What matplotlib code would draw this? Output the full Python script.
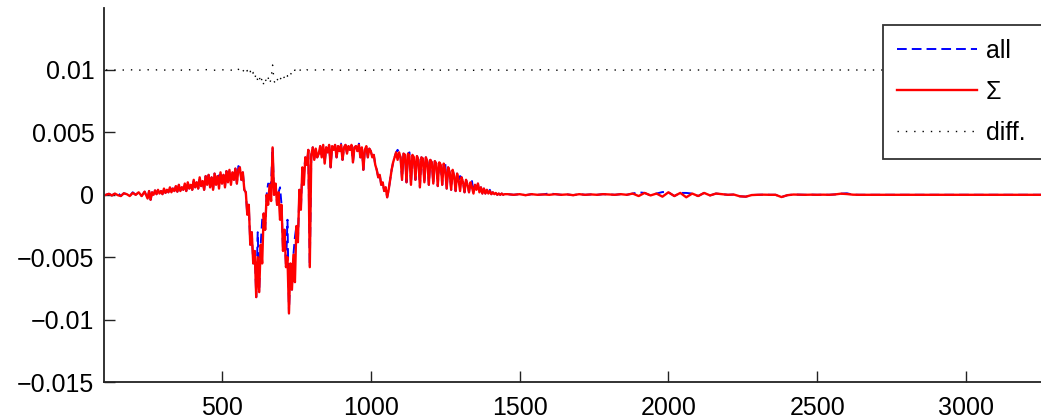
import numpy as np
import matplotlib
matplotlib.use('Agg')
import matplotlib.pyplot as plt
from matplotlib.ticker import FuncFormatter

plt.rcParams['font.family'] = ['Liberation Sans', 'DejaVu Sans']

# spectrum values in units of 1e-4, piece by piece
# (start x, step, values)
sum_a = (110, 10, [0, 0.8, -0.5, 1, -0.3, -1, 1.2, 0.5, -1, 1.5, 0, 2, -1, 2.5])
sum_a2 = (250, 5, [-3, 3, -4, 2, 0, 3.5, 0.5, 4, 1, 3, 0.5, 5, 1.5, 4, 2, 6, 2, 5, 3, 7,
                   2.5, 8, 3, 6, 4, 9, 3, 10, 5, 8, 4, 12, 6, 10, 5, 14, 7, 11, 4, 15, 8])
sum_b1 = (455, 5, [16, 6, 14, 4, 17, 8, 15, 5, 18, 9, 16, 6, 19, 10, 20, 8, 18, 12, 21, 9,
                   20, 22])
sum_b2 = (565, 5, [12, 18, 4, 2, -16, -8, -40, -30, -55, -45, -82, -50, -78, -40, -55, -15,
                   -28, 0, -8, 8, -5, 38, 0, 9, -8, 2, -20, -8, -45, -28, -58, -50, -95,
                   -55, -76, -48, -70, -25, -38, 4, -12, 22, 8, 30, 24, 36, -58, 32, 38,
                   28, 37, 30])
sum_b3 = (825, 5, [33, 39, 30, 40, 25, 38, 34, 40, 22, 39, 36, 40, 30, 39, 35, 40, 28, 38,
                   40, 33, 39, 36, 40, 26, 38, 39, 35, 40, 30, 38, 20, 36, 39, 30, 37])
sum_b4 = (1000, 5, [35, 30, 32, 24, 20, 14, 16, 8, 10, 3, 6, -2, 4, 12, 20, 26, 30, 34, 28])
sum_b5 = (1095, 5, [34, 30, 12, 33, 32, 10, 33, 31, 8, 32, 30, 12, 31, 28, 6, 30, 29, 10,
                    30, 27, 8, 28, 26, 9, 27, 25, 7, 26])
sum_b6 = (1235, 5, [24, 8, 25, 20, 5, 22, 18, 4, 20, 15, 3, 17, 12, 3, 14, 10, 2, 12, 8, 2,
                    10, 6, 1, 8, 4, 9, 2, 6, 1, 5, 1, 4, 1, 3, 0.5, 2, 0.5, 1.5, 0, 1, 0, 1,
                    0, 0.5])
sum_c1 = (1460, 20, [0.5, 0, 0.5, -0.3, 0.5, 0, 0.3, 0, 0.5, 0, 0.3, -0.3, 0.5, 0, 0.3, 0,
                     0.5, 0.3, 0, 0.5, 0])
sum_c2 = (1880, 20, [1, -1, 1.5, -0.5, 1, -1.5, 2, -1, 1.5, -2, 1, -1, 1.5, -0.5, 1, 0.5])
sum_c3 = (2200, 20, [0, 0.2, -1.2, -1.5, -0.2, 0, 0.1, 0, 0, -1.8, -0.3, 0.2, 0.1, 0, 0.1,
                     0, 0.1, 0, 0.3, 0.9, 0.6, 0.1, 0])
sum_tail = (2660, 640, [0, 0])

# spots where the blue "all" curve sticks out from under the red one
all_dev_x = [150, 200, 330, 490, 530, 555, 620, 635, 655, 665, 695, 720, 745, 775, 900,
             960, 1090, 1130, 1190, 1250, 1300, 1340, 1400, 1600, 1900, 1980, 2060, 2600]
all_dev_y = [1.8, 2, 5, 15, 20, 23, -30, -20, 9, 10, 6, -20, -34, 16, 41, 41, 36, 34, 30,
             26, 15, 11, 4, 1.2, 2, 2.2, 1.5, 1.2]

# difference curve, plotted around 0.01 (units 1e-4)
diff_a = (110, 20, [100, 100.2, 99.8, 100, 100.3, 99.7, 100, 100.2, 99.8, 100.4, 99.9,
                    100, 100.3, 99.7, 100.2, 99.8, 100, 100.3, 99.8, 100, 100.2, 99.9])
diff_b = (540, 5, [100, 100.5, 99.5, 100.6, 99.3, 100.8, 98.8, 100.5, 97.5, 99.6,
                   96.5, 99, 95, 98, 93.5, 97, 91.5, 95, 89.5, 94,
                   88.5, 93, 90, 94, 89, 93, 104, 91, 89, 93,
                   90.5, 94, 92, 95.5, 93.5, 97, 95, 98, 96, 99,
                   97.5, 100, 98.5, 100.3, 99.3, 100.5, 99.6, 100.3, 99.7, 100.2,
                   99.8, 100.2, 100])
diff_c = (820, 40, [100, 100.3, 99.8, 100.2, 99.7, 100, 100.3, 99.8, 100.1, 100.4, 99.8,
                    100, 100.2, 99.7, 100.3, 100, 99.8, 100.2, 100, 100.3, 99.8, 100,
                    100.2, 99.9, 100.3, 100, 99.8, 100.2, 100, 100.3, 100.1, 99.9, 100])
diff_tail = (2140, 1160, [100, 100])

xticks = [500, 1000, 1500, 2000, 2500, 3000]
yticks = [-0.015, -0.01, -0.005, 0, 0.005, 0.01]


def build(parts):
    xs = np.concatenate([p[0] + p[1] * np.arange(len(p[2])) for p in parts])
    ys = np.concatenate([np.array(p[2], float) for p in parts])
    return xs, ys * 1e-4


x, y_sum = build([sum_a, sum_a2, sum_b1, sum_b2, sum_b3, sum_b4, sum_b5, sum_b6,
                  sum_c1, sum_c2, sum_c3, sum_tail])
y_all = y_sum.copy()
for xv, yv in zip(all_dev_x, all_dev_y):
    y_all[np.argmin(np.abs(x - xv))] = yv * 1e-4
dx, dy = build([diff_a, diff_b, diff_c, diff_tail])

fig = plt.figure(figsize=(10.41, 4.19), dpi=100)
ax = fig.add_axes([104 / 1041, 37 / 419, 937 / 1041, 374.4 / 419])

l_all, = ax.plot(x, y_all, color='#0000ff', lw=1.4, ls=(0, (5, 2.6)), label='all')
l_sum, = ax.plot(x, y_sum, color='#ff0000', lw=1.7, label='\u03a3')
l_diff, = ax.plot(dx, dy, color='black', lw=1.0, ls=(0, (1, 5)), label='diff.')

ax.set_xlim(103.5, 3252)
ax.set_ylim(-0.015, 0.015)
ax.set_xticks(xticks)
ax.set_yticks(yticks)
ax.yaxis.set_major_formatter(FuncFormatter(lambda v, p: f"{v:g}".replace('-', '\u2212')))

for s in ['top', 'right']:
    ax.spines[s].set_visible(False)
for s in ['left', 'bottom']:
    ax.spines[s].set_linewidth(1.3)
    ax.spines[s].set_color('#222222')
ax.tick_params(direction='in', length=8, width=1, colors='#222222', labelsize=18,
               labelcolor='black')
ax.tick_params(axis='y', pad=7)
ax.tick_params(axis='x', pad=10)

leg = ax.legend(handles=[l_all, l_sum, l_diff], loc='upper left',
                bbox_to_anchor=(883 / 1041, 245 / 419, 0.3, 149 / 419),
                bbox_transform=fig.transFigure, mode='expand', fontsize=18,
                frameon=True, fancybox=False, framealpha=1, edgecolor='#333333',
                borderpad=0.56, labelspacing=0.68, handlelength=3.2,
                handletextpad=0.36, borderaxespad=0)
leg.get_frame().set_linewidth(1.3)

fig.savefig('out.png', dpi=100)
